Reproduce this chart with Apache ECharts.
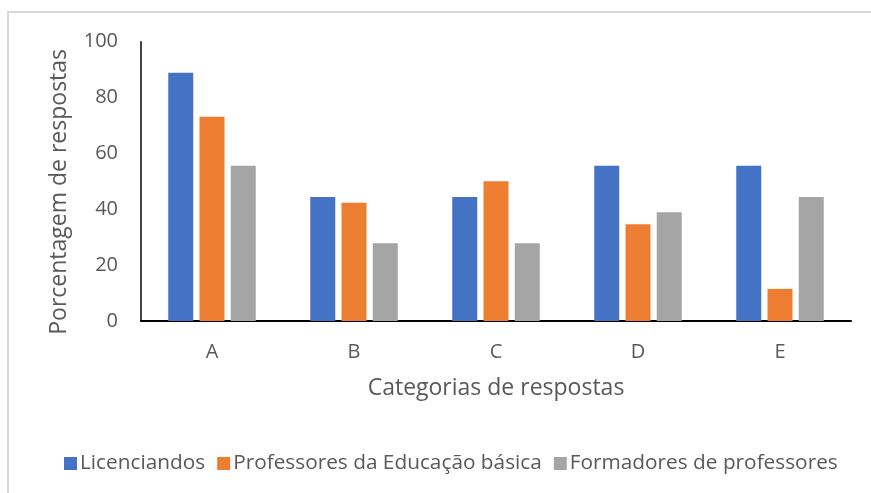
<!DOCTYPE html>
<html>
<head>
<meta charset="utf-8">
<script src="https://cdn.jsdelivr.net/npm/echarts@6/dist/echarts.min.js"></script>
<style>
html,body{margin:0;padding:0;background:#fff;}
#frame{position:absolute;left:7px;top:11px;width:864px;height:482px;border-left:2px solid #d9d9d9;border-top:2px solid #d9d9d9;box-sizing:border-box;}
#chart{position:absolute;left:0;top:0;width:871px;height:493px;}
</style>
</head>
<body>
<div id="frame"></div>
<div id="chart"></div>
<script>
const categories = ['A', 'B', 'C', 'D', 'E'];
const licenciandos = [88.9, 44.4, 44.4, 55.6, 55.6];
const professoresEB = [73.1, 42.3, 50.0, 34.6, 11.5];
const formadores = [55.6, 27.8, 27.8, 38.9, 44.4];
const seriesNames = ['Licenciandos', 'Professores da Educação básica', 'Formadores de professores'];
const yTicks = { min: 0, max: 100, interval: 20 };

const font = '"Open Sans", "Noto Sans", sans-serif';
const txt = '#595959';
const colors = ['#4472C4', '#ED7D31', '#A5A5A5'];
const values = [licenciandos, professoresEB, formadores];

const chart = echarts.init(document.getElementById('chart'), null, { renderer: 'canvas' });
chart.setOption({
  animation: false,
  backgroundColor: 'transparent',
  color: colors,
  textStyle: { fontFamily: font },
  grid: { left: 141, right: 20, top: 41.7, bottom: 172, containLabel: false },
  legend: {
    data: seriesNames,
    top: 448,
    left: 59,
    icon: 'rect',
    itemWidth: 13,
    itemHeight: 13,
    itemGap: 12,
    textStyle: { color: txt, fontSize: 20.8, fontFamily: font, padding: [0, 0, 0, -2] }
  },
  xAxis: {
    type: 'category',
    data: categories,
    name: 'Categorias de respostas',
    nameLocation: 'middle',
    nameGap: 56,
    nameTextStyle: { color: txt, fontSize: 23, fontFamily: font },
    axisLine: { lineStyle: { color: '#000', width: 2 } },
    axisTick: { show: false },
    axisLabel: { color: txt, fontSize: 20, margin: 21, fontFamily: font }
  },
  yAxis: {
    type: 'value',
    min: yTicks.min, max: yTicks.max, interval: yTicks.interval,
    name: 'Porcentagem de respostas',
    nameLocation: 'middle',
    nameGap: 70,
    nameRotate: 90,
    nameTextStyle: { color: txt, fontSize: 23, fontFamily: font, padding: [0, 21, 0, 0] },
    axisLine: { show: true, lineStyle: { color: '#000', width: 1.5 } },
    axisTick: { show: false },
    splitLine: { show: false },
    axisLabel: { color: txt, fontSize: 20, margin: 23, fontFamily: font }
  },
  series: seriesNames.map((n, i) => ({
    name: n,
    type: 'bar',
    data: values[i],
    barWidth: 25,
    barGap: '25%',
    itemStyle: { color: colors[i] }
  }))
});
</script>
</body>
</html>
